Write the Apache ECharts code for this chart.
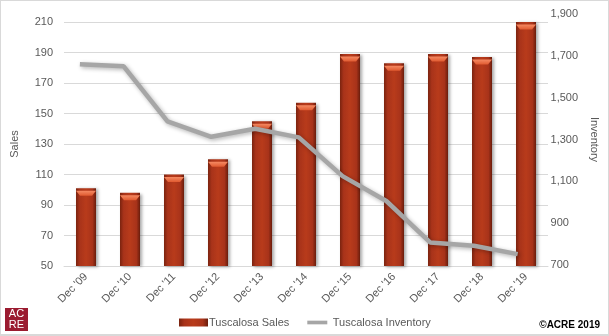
<!DOCTYPE html>
<html>
<head>
<meta charset="utf-8">
<script src="https://cdn.jsdelivr.net/npm/echarts@6/dist/echarts.min.js"></script>
<style>
  html, body { margin: 0; padding: 0; background: #fff; }
  #chart { width: 609px; height: 336px; box-sizing: border-box; border: 1px solid #d9d9d9; border-bottom-width: 2px; }
</style>
</head>
<body>
<div id="chart"></div>
<script>
// Year-end labels
const categories = ["Dec '09", "Dec '10", "Dec '11", "Dec '12", "Dec '13", "Dec '14", "Dec '15", "Dec '16", "Dec '17", "Dec '18", "Dec '19"];
// Tuscaloosa home sales (left axis)
const salesValues = [101, 98, 110, 120, 145, 157, 189, 183, 189, 187, 210];
// Tuscaloosa active inventory (right axis)
const inventoryValues = [1660, 1650, 1387, 1313, 1351, 1310, 1125, 1006, 808, 792, 752];
// Axis ranges
const salesAxis = { min: 50, max: 210, step: 20 };
const inventoryAxis = { min: 700, max: 1900, step: 200 };

const font = 'Liberation Sans, Arial, sans-serif';
const labelColor = '#595959';
const gridColor = '#d9d9d9';

const barFill = new echarts.graphic.LinearGradient(0, 0, 1, 0, [
  { offset: 0, color: '#7a230f' },
  { offset: 0.18, color: '#a8331a' },
  { offset: 0.5, color: '#b83b1b' },
  { offset: 0.82, color: '#a8331a' },
  { offset: 1, color: '#6a1d0c' }
]);
const capFill = new echarts.graphic.LinearGradient(0, 0, 0, 1, [
  { offset: 0, color: '#f58a63' },
  { offset: 1, color: '#e05a30' }
]);

const chart = echarts.init(document.getElementById('chart'), null, { renderer: 'canvas' });

chart.setOption({
  animation: false,
  backgroundColor: '#fff',
  textStyle: { fontFamily: font },
  grid: [
    { left: 57, right: 60, top: 21, bottom: 68 },
    { left: 57, right: 60, top: 13, bottom: 69 }
  ],
  legend: {
    data: [
      { name: 'Tuscalosa Sales', icon: 'rect' },
      // thin horizontal stroke, padded top and bottom so it keeps a line-like height
      { name: 'Tuscalosa Inventory', icon: 'path://M0,0 L0,0 M0,6.5 L60,6.5 L60,17.5 L0,17.5 Z M60,24 L60,24' }
    ],
    left: 173,
    top: 311,
    itemWidth: 29,
    itemHeight: 8,
    itemGap: 18,
    textStyle: { fontFamily: font, fontSize: 11, color: labelColor, padding: [0, 0, 0, -4] }
  },
  xAxis: [
    {
      type: 'category',
      gridIndex: 0,
      data: categories,
      axisLine: { lineStyle: { color: gridColor } },
      axisTick: { show: false },
      axisLabel: { rotate: 45, margin: 9, fontSize: 11, color: labelColor, fontFamily: font }
    },
    {
      type: 'category',
      gridIndex: 1,
      data: categories,
      show: false
    }
  ],
  yAxis: [
    {
      type: 'value',
      gridIndex: 0,
      min: salesAxis.min,
      max: salesAxis.max,
      interval: salesAxis.step,
      name: 'Sales',
      nameLocation: 'middle',
      nameGap: 44,
      nameTextStyle: { fontFamily: font, fontSize: 11, color: labelColor },
      axisLine: { show: false },
      axisTick: { show: false },
      axisLabel: { margin: 11, fontSize: 11, color: labelColor, fontFamily: font },
      splitLine: { lineStyle: { color: gridColor } }
    },
    {
      type: 'value',
      gridIndex: 1,
      position: 'right',
      min: inventoryAxis.min,
      max: inventoryAxis.max,
      interval: inventoryAxis.step,
      name: 'Inventory',
      nameLocation: 'middle',
      nameRotate: -90,
      nameGap: 43,
      nameTextStyle: { fontFamily: font, fontSize: 11, color: labelColor },
      axisLine: { show: false },
      axisTick: { show: false },
      axisLabel: { margin: 11, fontSize: 11, color: labelColor, fontFamily: font },
      splitLine: { show: false }
    }
  ],
  series: [
    {
      name: 'Tuscalosa Sales',
      type: 'bar',
      xAxisIndex: 0,
      yAxisIndex: 0,
      data: salesValues,
      barWidth: 20,
      itemStyle: {
        color: barFill,
        shadowColor: 'rgba(0,0,0,0.35)',
        shadowBlur: 3,
        shadowOffsetX: 2,
        shadowOffsetY: 1
      },
      z: 2
    },
    {
      // bevelled highlight on top of each column
      type: 'pictorialBar',
      xAxisIndex: 0,
      yAxisIndex: 0,
      data: salesValues,
      symbol: 'path://M0,0 L20,0 L16,5 L4,5 Z',
      symbolSize: [20, 5],
      symbolPosition: 'end',
      symbolOffset: [0, '50%'],
      itemStyle: { color: capFill },
      silent: true,
      z: 3
    },
    {
      name: 'Tuscalosa Inventory',
      type: 'line',
      xAxisIndex: 1,
      yAxisIndex: 1,
      data: inventoryValues,
      symbol: 'none',
      lineStyle: {
        color: '#a6a6a6',
        width: 4.5,
        shadowColor: 'rgba(0,0,0,0.3)',
        shadowBlur: 4,
        shadowOffsetX: 1.5,
        shadowOffsetY: 1.5
      },
      itemStyle: { color: '#a6a6a6' },
      z: 5
    }
  ],
  graphic: [
    {
      type: 'group',
      left: 4,
      top: 307,
      children: [
        { type: 'rect', shape: { x: 0, y: 0, width: 23, height: 23 }, style: { fill: '#9b1b30' } },
        { type: 'text', x: 11.5, y: 0.5, style: { text: 'AC', fill: '#fff', font: '11px ' + font, align: 'center' } },
        { type: 'text', x: 11.5, y: 11, style: { text: 'RE', fill: '#fff', font: '11px ' + font, align: 'center' } }
      ]
    },
    {
      type: 'text',
      right: 8,
      top: 319,
      style: { text: '©ACRE 2019', fill: '#000', font: 'bold 10px ' + font }
    }
  ]
});
</script>
</body>
</html>
